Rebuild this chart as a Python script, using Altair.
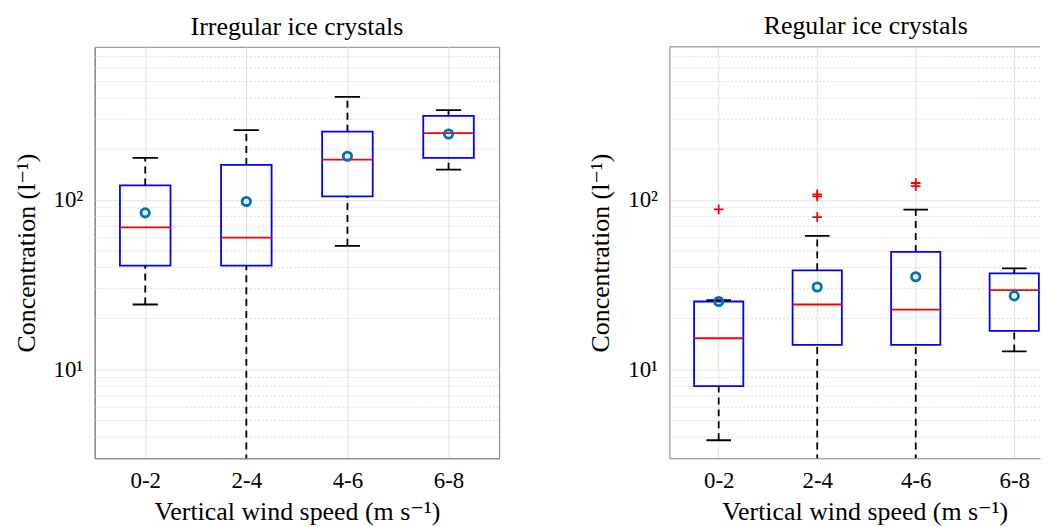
import json
import altair as alt
import pandas as pd

categories = ["0-2", "2-4", "4-6", "6-8"]

# Irregular ice crystals (box statistics, l^-1)
irr_lower = [24.2, 1.5, 53.7, 151]
irr_q1 = [41, 41, 105, 177]
irr_median = [69, 60, 173, 248]
irr_q3 = [122, 161, 253, 313]
irr_upper = [177, 258, 406, 339]
irr_mean = [84, 98, 181, 245]
irr_out_cat = []
irr_out_val = []

# Regular ice crystals
reg_lower = [3.83, 1.5, 1.5, 12.8]
reg_q1 = [7.98, 14.0, 14.0, 16.9]
reg_median = [15.3, 24.2, 22.6, 29.4]
reg_q3 = [25.2, 38.5, 49.4, 36.9]
reg_upper = [25.7, 61.5, 87.7, 39.5]
reg_mean = [25.2, 30.7, 35.3, 27.2]
reg_out_cat = ["0-2", "2-4", "2-4", "2-4", "4-6", "4-6"]
reg_out_val = [88, 105, 108, 79.3, 126, 120.6]

y_domain = [3, 800]
y_major = [10, 100]
y_major_labels = ["10¹", "10²"]
y_minor = [3, 4, 5, 6, 7, 8, 9, 20, 30, 40, 50, 60, 70, 80, 90,
           200, 300, 400, 500, 600, 700, 800]

FONT = "Liberation Serif, DejaVu Serif, serif"
FRAME = "#7f7f7f"


def panel(title, lower, q1, med, q3, upper, mean, out_cat, out_val,
          width, xmax, title_dx, xtitle_x, right_open):
    df = pd.DataFrame({
        "cat": categories,
        "pos": list(range(1, len(categories) + 1)),
        "lower": lower, "q1": q1, "median": med, "q3": q3,
        "upper": upper, "mean": mean,
    })
    pos_of = {c: i + 1 for i, c in enumerate(categories)}
    odf = pd.DataFrame({"pos": [pos_of[c] for c in out_cat], "val": out_val})
    gdf = pd.DataFrame({"v": y_minor})
    tdf = pd.DataFrame({"v": [y_domain[1]]})

    xs = alt.Scale(domain=[0.5, xmax], nice=False, zero=False)
    ys = alt.Scale(type="log", domain=y_domain, nice=False)

    xaxis = alt.Axis(
        values=list(range(1, len(categories) + 1)),
        labelExpr=json.dumps(categories) + "[datum.value - 1]",
        title="Vertical wind speed (m s⁻¹)",
        grid=True, labelFlush=False, labelOverlap=False,
        labelPadding=11, titlePadding=6, titleX=xtitle_x,
    )
    yaxis = alt.Axis(
        values=y_major,
        labelExpr=json.dumps(y_major_labels) + "[indexof(" + json.dumps(y_major) + ", datum.value)]",
        title="Concentration (l⁻¹)",
        grid=True, labelPadding=12, titlePadding=14, labelOverlap=False,
    )

    def X(f):
        return alt.X(f, scale=xs, axis=xaxis)

    def Y(f):
        return alt.Y(f, scale=ys, axis=yaxis)

    base = alt.Chart(df).transform_calculate(
        left="datum.pos - 0.25", right="datum.pos + 0.25",
        capl="datum.pos - 0.125", capr="datum.pos + 0.125",
    )

    minor = alt.Chart(gdf).mark_rule(
        color="#d4d4d4", strokeWidth=0.8, strokeDash=[2, 2], clip=True
    ).encode(y=Y("v:Q"))

    box = base.mark_rect(
        stroke="#0000ff", strokeWidth=1.8, fillOpacity=0, clip=True
    ).encode(x=X("left:Q"), x2="right:Q", y=Y("q1:Q"), y2="q3:Q")

    wh_up = base.mark_rule(
        color="black", strokeWidth=1.8, strokeDash=[7, 5], clip=True
    ).encode(x=X("pos:Q"), y=Y("q3:Q"), y2="upper:Q")
    wh_lo = base.mark_rule(
        color="black", strokeWidth=1.8, strokeDash=[7, 5], clip=True
    ).encode(x=X("pos:Q"), y=Y("lower:Q"), y2="q1:Q")
    cap_up = base.mark_rule(color="black", strokeWidth=1.8, clip=True).encode(
        x=X("capl:Q"), x2="capr:Q", y=Y("upper:Q"))
    cap_lo = base.mark_rule(color="black", strokeWidth=1.8, clip=True).encode(
        x=X("capl:Q"), x2="capr:Q", y=Y("lower:Q"))
    median = base.mark_rule(color="#ff0000", strokeWidth=1.8, clip=True).encode(
        x=X("left:Q"), x2="right:Q", y=Y("median:Q"))
    means = base.mark_point(
        shape="circle", filled=False, color="#0072BD", size=70,
        strokeWidth=2.8, opacity=1, clip=True
    ).encode(x=X("pos:Q"), y=Y("mean:Q"))

    layers = [minor, box, wh_up, wh_lo, cap_up, cap_lo, median, means]

    if len(odf):
        outl = alt.Chart(odf).mark_point(
            shape="M-1,0L1,0M0,-1L0,1", filled=False, color="#ff0000",
            size=95, strokeWidth=1.8, opacity=1, clip=True
        ).encode(x=X("pos:Q"), y=Y("val:Q"))
        layers.append(outl)

    if right_open:
        top = alt.Chart(tdf).mark_rule(color=FRAME, strokeWidth=1).encode(
            y=Y("v:Q"))
        layers.append(top)
        view = alt.ViewBackground(stroke="transparent")
    else:
        view = alt.ViewBackground(stroke=FRAME, strokeWidth=1)

    return alt.layer(*layers).properties(
        width=width, height=413,
        title=alt.TitleParams(title, fontSize=26, font=FONT, fontWeight="normal",
                              color="black", offset=7, dx=title_dx),
        view=view,
    )


left = panel("Irregular ice crystals", irr_lower, irr_q1, irr_median, irr_q3,
             irr_upper, irr_mean, irr_out_cat, irr_out_val,
             width=406, xmax=4.5, title_dx=0, xtitle_x=203, right_open=False)
right = panel("Regular ice crystals", reg_lower, reg_q1, reg_median, reg_q3,
              reg_upper, reg_mean, reg_out_cat, reg_out_val,
              width=372, xmax=0.5 + 372 / 98.9, title_dx=11, xtitle_x=196,
              right_open=True)

chart = alt.hconcat(left, right, spacing=87).resolve_scale(
    x="independent", y="independent"
).properties(
    padding={"left": 4, "top": 4, "right": 0, "bottom": 0},
    background="white",
).configure_axis(
    labelFont=FONT, titleFont=FONT, labelFontSize=23, titleFontSize=26,
    labelColor="black", titleColor="black", titleFontWeight="normal",
    gridColor="#e2e2e2", gridWidth=1, domainColor=FRAME, domainWidth=1,
    ticks=False, tickSize=0,
).configure_view(stroke=FRAME)

chart.save("out.html", embed_options={"renderer": "svg", "actions": False})
